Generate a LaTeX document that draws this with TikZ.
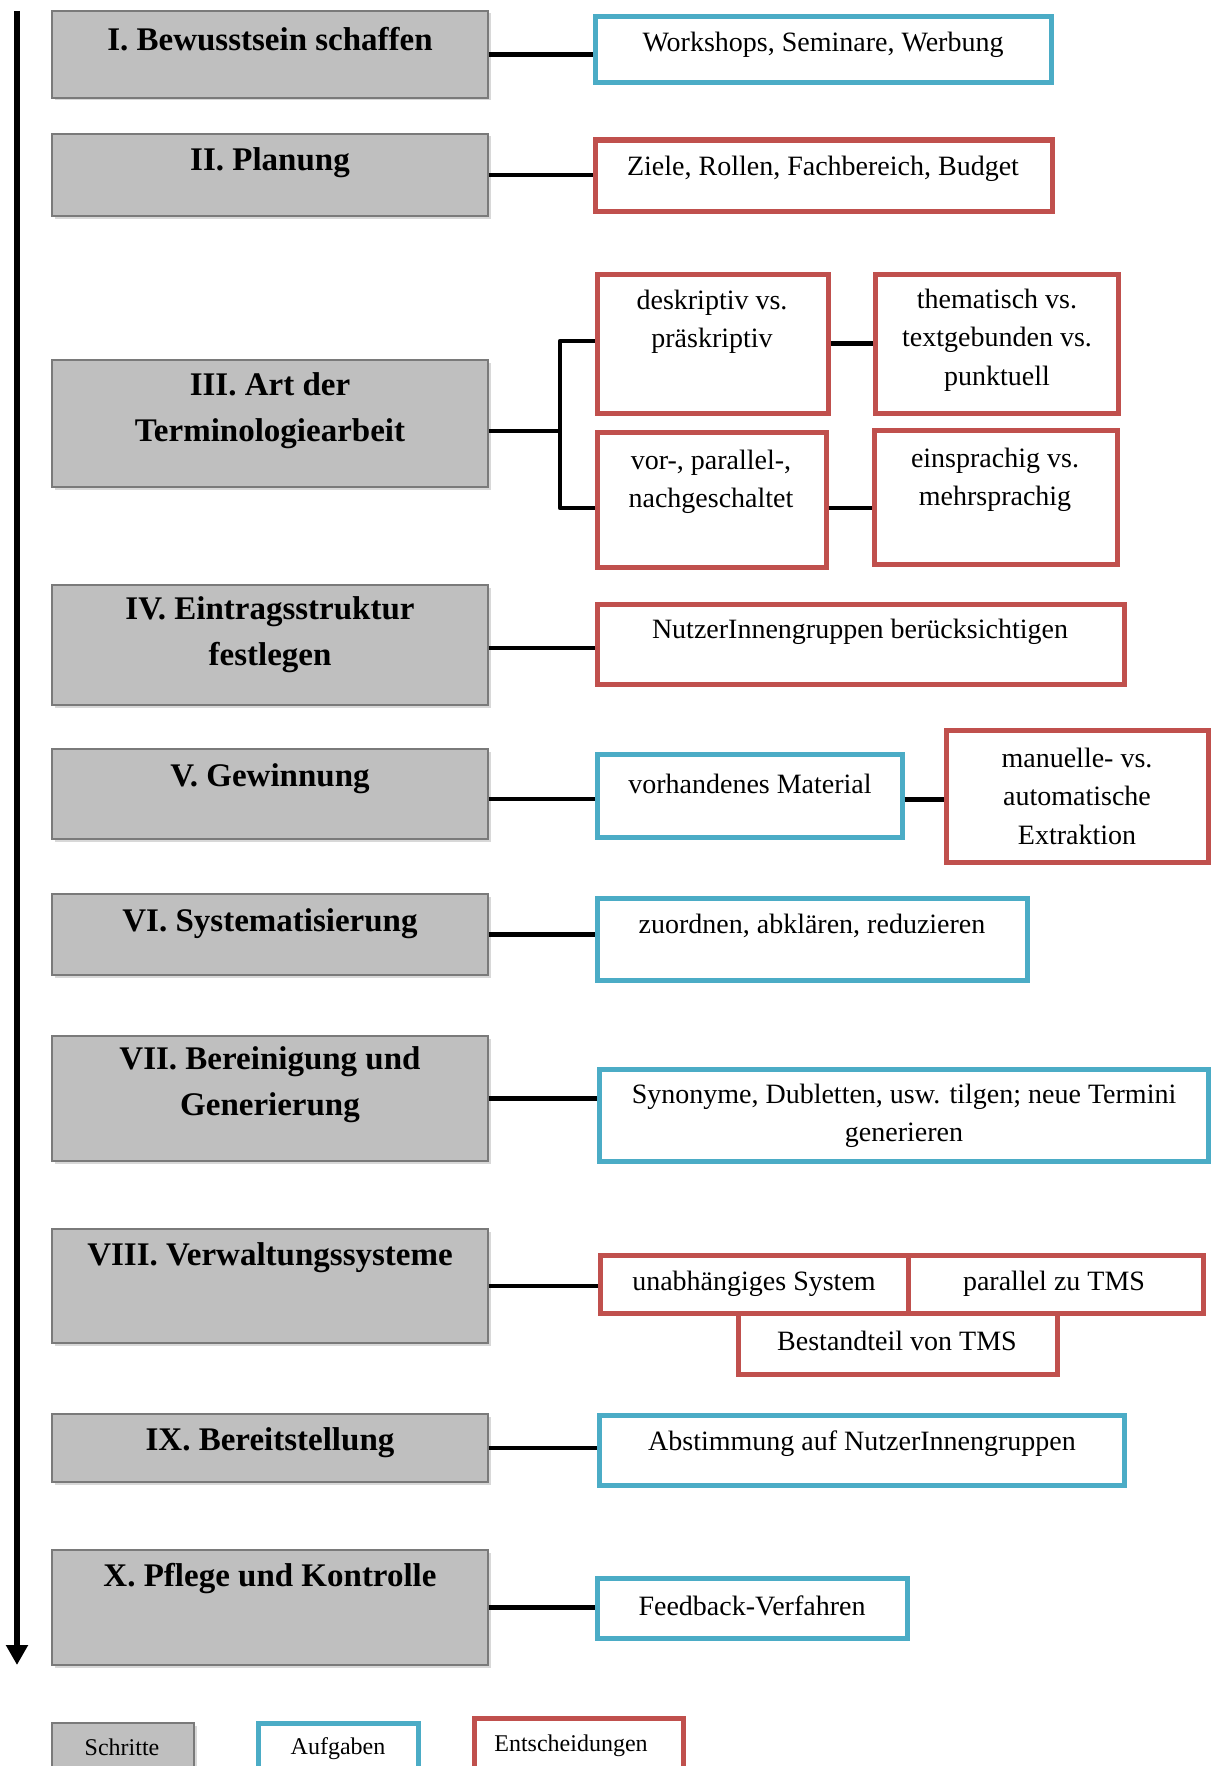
\documentclass[tikz,border=0pt]{standalone}
\usepackage{fontspec}
\setmainfont{Liberation Serif}
\usetikzlibrary{fit,shadows,arrows.meta}
\definecolor{stepgray}{HTML}{BFBFBF}
\definecolor{stepline}{HTML}{7A7A7A}
\definecolor{taskblue}{HTML}{4BACC6}
\definecolor{decred}{HTML}{C0504D}
\tikzset{
 stepbox/.style={draw=stepline, fill=stepgray, line width=1.8pt, inner sep=0pt,
   drop shadow={shadow xshift=2.5pt, shadow yshift=-2.5pt, fill=black!30}},
 taskbox/.style={draw=taskblue, fill=white, line width=5pt, inner sep=0pt},
 decbox/.style={draw=decred, fill=white, line width=5pt, inner sep=0pt},
 steptext/.style={font=\fontsize{33}{46}\selectfont\bfseries, align=center, inner sep=0pt},
 boxtext/.style={font=\fontsize{28}{38.5}\selectfont, align=center, inner sep=0pt},
 legtext/.style={font=\fontsize{24}{30}\selectfont, inner sep=0pt},
 conn/.style={line width=4.5pt, black, line join=round},
}
\newcommand\mybx[6]{\node[#2, fit={(#3,#4) (#5,#6)}] (#1) {};}
\begin{document}
\begin{tikzpicture}[x=1pt, y=-1pt]
\useasboundingbox (0,0) rectangle (1212,1766);
\clip (0,0) rectangle (1212,1766);
% timeline arrow
\coordinate (atop) at (17,11);
\coordinate (abot) at (17,1665);
\draw[line width=5.5pt, -{Triangle[width=21pt,length=20pt]}] (atop) -- (abot);

% steps
\mybx{s1}{stepbox}{52}{11}{488}{98}
\mybx{s2}{stepbox}{52}{134}{488}{216}
\mybx{s3}{stepbox}{52}{360}{488}{487}
\mybx{s4}{stepbox}{52}{585}{488}{705}
\mybx{s5}{stepbox}{52}{749}{488}{839}
\mybx{s6}{stepbox}{52}{894}{488}{975}
\mybx{s7}{stepbox}{52}{1036}{488}{1161}
\mybx{s8}{stepbox}{52}{1229}{488}{1343}
\mybx{s9}{stepbox}{52}{1414}{488}{1482}
\mybx{s10}{stepbox}{52}{1550}{488}{1665}

\node[steptext] (t1) at (270,39) {I. Bewusstsein schaffen};
\node[steptext] (t2) at (270,163) {II. Planung};
\node[steptext] (t3) at (270,411) {III. Art der\\Terminologiearbeit};
\node[steptext] (t4) at (270,635) {IV. Eintragsstruktur\\festlegen};
\node[steptext] (t5) at (270,779) {V. Gewinnung};
\node[steptext] (t6) at (270,924) {VI. Systematisierung};
\node[steptext] (t7) at (270,1085) {VII. Bereinigung und\\Generierung};
\node[steptext] (t8) at (270,1258) {VIII. Verwaltungssysteme};
\node[steptext] (t9) at (270,1443) {IX. Bereitstellung};
\node[steptext] (t10) at (270,1579) {X. Pflege und Kontrolle};

% tasks and decisions
\mybx{a1}{taskbox}{595}{17}{1051}{83}
\node[boxtext] (ta1) at (823,45) {Workshops, Seminare, Werbung};
\mybx{d2}{decbox}{595}{140}{1052}{211}
\node[boxtext] (td2) at (823,169) {Ziele, Rollen, Fachbereich, Budget};
\mybx{d3a}{decbox}{597}{274}{828}{413}
\node[boxtext] (td3a) at (712,322) {deskriptiv vs.\\präskriptiv};
\mybx{d3b}{decbox}{875}{274}{1118}{413}
\node[boxtext] (td3b) at (997,340) {thematisch vs.\\textgebunden vs.\\punktuell};
\mybx{d3c}{decbox}{597}{432}{826}{567}
\node[boxtext] (td3c) at (711,482) {vor-, parallel-,\\nachgeschaltet};
\mybx{d3d}{decbox}{874}{430}{1117}{564}
\node[boxtext] (td3d) at (995,480) {einsprachig vs.\\mehrsprachig};
\mybx{d4}{decbox}{597}{604}{1124}{684}
\node[boxtext] (td4) at (860,632) {NutzerInnengruppen berücksichtigen};
\mybx{a5}{taskbox}{597}{754}{902}{837}
\node[boxtext] (ta5) at (750,784) {vorhandenes Material};
\mybx{d5}{decbox}{946}{730}{1208}{862}
\node[boxtext] (td5) at (1077,796) {manuelle- vs.\\automatische\\Extraktion};
\mybx{a6}{taskbox}{597}{898}{1027}{980}
\node[boxtext] (ta6) at (812,926) {zuordnen, abklären, reduzieren};
\mybx{a7}{taskbox}{599}{1069}{1208}{1161}
\node[boxtext] (ta7) at (904,1116) {Synonyme, Dubletten, usw. tilgen; neue Termini\\generieren};
\mybx{d8a}{decbox}{600}{1255}{908}{1313}
\node[boxtext] (td8a) at (754,1284) {unabhängiges System};
\mybx{d8b}{decbox}{908}{1255}{1203}{1313}
\node[boxtext] (td8b) at (1054,1284) {parallel zu TMS};
\mybx{d8c}{decbox}{738}{1313}{1057}{1374}
\node[boxtext] (td8c) at (897,1341) {Bestandteil von TMS};
\mybx{a9}{taskbox}{599}{1415}{1124}{1485}
\node[boxtext] (ta9) at (862,1444) {Abstimmung auf NutzerInnengruppen};
\mybx{a10}{taskbox}{597}{1578}{907}{1638}
\node[boxtext] (ta10) at (752,1606) {Feedback-Verfahren};

% connectors
\draw[conn] (s1.east) -- (s1.east -| a1.west);
\draw[conn] (s2.east) -- (s2.east -| d2.west);
\coordinate (j3) at (560,431);
\draw[conn] (s3.east |- j3) -- (j3);
\draw[conn] ([yshift=2.5pt]d3a.west) -| (j3) |- ([yshift=-8.5pt]d3c.west);
\draw[conn] (d3a.east) -- (d3a.east -| d3b.west);
\draw[conn] ([yshift=-8.5pt]d3c.east) -- ([yshift=-8.5pt]d3c.east -| d3d.west);
\draw[conn] ([yshift=-3pt]s4.east) -- ([yshift=-3pt]s4.east -| d4.west);
\draw[conn] ([yshift=-5pt]s5.east) -- ([yshift=-5pt]s5.east -| a5.west);
\draw[conn] ([yshift=-4pt]a5.east) -- ([yshift=-4pt]a5.east -| d5.west);
\draw[conn] (s6.east) -- (s6.east -| a6.west);
\draw[conn] (s7.east) -- (s7.east -| a7.west);
\draw[conn] (s8.east) -- (s8.east -| d8a.west);
\draw[conn] (s9.east) -- (s9.east -| a9.west);
\draw[conn] (s10.east) -- (s10.east -| a10.west);

% legend
\mybx{lg1}{stepbox}{52}{1723}{194}{1795}
\node[legtext] (tl1) at (122,1747) {Schritte};
\mybx{lg2}{taskbox}{258}{1723}{418}{1795}
\node[legtext] (tl2) at (338,1749) {Aufgaben};
\mybx{lg3}{decbox}{474}{1718}{683}{1795}
\node[legtext] (tl3) at (571,1746) {Entscheidungen};
\end{tikzpicture}
\end{document}
